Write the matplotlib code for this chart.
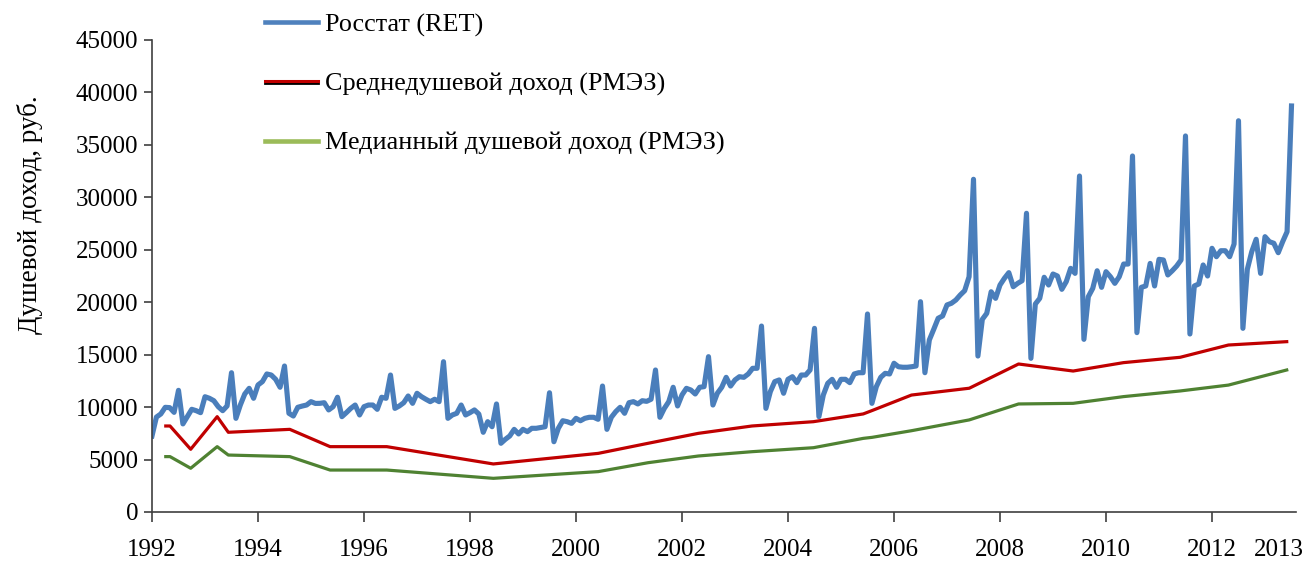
import numpy as np
import matplotlib
matplotlib.use("Agg")
import matplotlib.pyplot as plt
from matplotlib.lines import Line2D
import matplotlib.patheffects as pe

plt.rcParams['font.family'] = ['Liberation Serif', 'DejaVu Serif']

# ---------------- data ----------------
series_start = 1992.0  # first monthly observation sits at the "1992" label
rosstat_income = [
    # 1992 (Jun-Dec)
    7250, 9050, 9350, 9980, 9950, 9500, 11600,
    # 1993
    8400, 9090, 9790, 9660, 9470, 10990, 10840, 10610, 10040, 9660, 10110, 13280,
    # 1994
    8930, 10200, 11250, 11790, 10840, 12110, 12430, 13160, 13060, 12650, 11890, 13920,
    # 1995
    9410, 9150, 9980, 10100, 10200, 10520, 10350, 10360, 10420, 9730, 10040, 10940,
    # 1996
    9090, 9470, 9880, 10200, 9250, 10040, 10200, 10200, 9790, 10940, 10840, 13060,
    # 1997
    9880, 10110, 10420, 11060, 10360, 11320, 11000, 10750, 10520, 10750, 10520, 14330,
    # 1998
    8930, 9250, 9410, 10200, 9250, 9470, 9730, 9340, 7600, 8610, 8130, 10300,
    # 1999
    6550, 6930, 7250, 7880, 7440, 7880, 7660, 7980, 7980, 8050, 8130, 11370,
    # 2000
    6700, 7980, 8700, 8610, 8450, 8930, 8700, 8930, 9030, 9030, 8840, 12010,
    # 2001
    7880, 9030, 9570, 9980, 9410, 10420, 10520, 10300, 10610, 10550, 10750, 13540,
    # 2002
    9030, 9880, 10520, 11890, 10110, 11160, 11790, 11630, 11250, 11890, 11950, 14810,
    # 2003
    10200, 11320, 11890, 12840, 12010, 12590, 12900, 12840, 13160, 13700, 13700, 17730,
    # 2004
    9880, 11470, 12430, 12590, 11320, 12650, 12900, 12330, 13060, 13060, 13540, 17510,
    # 2005
    9090, 11160, 12270, 12650, 11890, 12650, 12650, 12330, 13160, 13280, 13280, 18880,
    # 2006
    10360, 11950, 12840, 13220, 13160, 14180, 13850, 13800, 13800, 13850, 13920, 20050,
    # 2007
    13280, 16400, 17420, 18470, 18690, 19740, 19900, 20210, 20690, 21100, 22430, 31720,
    # 2008
    14870, 18370, 18940, 21000, 20370, 21640, 22280, 22820, 21480, 21800, 22050, 28480,
    # 2009
    14650, 19830, 20370, 22380, 21640, 22690, 22500, 21230, 21960, 23230, 22750, 32030,
    # 2010
    16460, 20530, 21320, 23000, 21420, 22910, 22430, 21800, 22430, 23640, 23640, 33940,
    # 2011
    17100, 21420, 21550, 23700, 21550, 24090, 24030, 22600, 23000, 23450, 24030, 35850,
    # 2012
    16970, 21550, 21740, 23550, 22500, 25140, 24340, 24910, 24910, 24340, 25550, 37300,
    # 2013
    17510, 23140, 24820, 26000, 22750, 26250, 25770, 25620, 24720, 25770, 26720, 38710,
]

rlms_rounds = [1992.26, 1992.34, 1992.73, 1993.23, 1993.44, 1994.60, 1995.36, 1996.43,
               1998.44, 2000.42, 2001.36, 2002.31, 2003.32, 2004.48, 2005.42, 2005.59,
               2006.33, 2007.42, 2008.35, 2009.38, 2010.33, 2011.40, 2012.31, 2013.41]
rlms_mean = [8200, 8200, 5980, 9090, 7600, 7880, 6230, 6230,
             4580, 5590, 6550, 7500, 8200, 8610, 9350, 9680,
             11150, 11800, 14110, 13440, 14240, 14750, 15920, 16240]
rlms_median = [5280, 5280, 4170, 6230, 5430, 5280, 4000, 4000,
               3210, 3850, 4700, 5340, 5750, 6130, 7020, 7120,
               7750, 8780, 10300, 10360, 11000, 11540, 12100, 13540]

year_ticks = [1992, 1994, 1996, 1998, 2000, 2002, 2004, 2006, 2008, 2010, 2012]
extra_label_pos = 2013.26
extra_label = "2013"
y_ticks = list(range(0, 45001, 5000))

labels = ["Росстат (RET)", "Среднедушевой доход (РМЭЗ)", "Медианный душевой доход (РМЭЗ)"]
ylabel = "Душевой доход, руб."

# ---------------- plot ----------------
W, H = 1302, 561
fig = plt.figure(figsize=(W / 100, H / 100), dpi=100)
ax = fig.add_axes([152 / W, 1 - 512 / H, (1296 - 152) / W, (512 - 40) / H])

months = series_start + np.arange(len(rosstat_income)) / 12.0
blue = '#4A7EBB'
red = '#C00000'
green = '#4F8232'

ax.plot(months, rosstat_income, color=blue, lw=3.7, solid_joinstyle='round', zorder=2)
ax.plot(rlms_rounds, rlms_mean, color=red, lw=2.3, zorder=3)
ax.plot(rlms_rounds, rlms_median, color=green, lw=2.3, zorder=3)

ax.set_xlim(1992.0, 2013.585)
ax.set_ylim(0, 45000)
ax.set_yticks(y_ticks)
ax.set_yticklabels([str(v) for v in y_ticks])
ax.set_xticks(year_ticks)
ax.set_xticklabels([str(y) for y in year_ticks])
ax.set_xticks([extra_label_pos], minor=True)
ax.set_xticklabels([extra_label], minor=True)

axis_col = '#404040'
for s in ['top', 'right']:
    ax.spines[s].set_visible(False)
for s in ['left', 'bottom']:
    ax.spines[s].set_color(axis_col)
    ax.spines[s].set_linewidth(1.2)

fs = 18
ax.tick_params(axis='y', which='major', direction='out', length=6, width=1.2,
               color=axis_col, labelsize=fs, pad=4)
ax.tick_params(axis='x', which='major', direction='out', length=7, width=1.2,
               color=axis_col, labelsize=fs, pad=12.5)
ax.tick_params(axis='x', which='minor', length=0, labelsize=fs, pad=12.5 + 7)

fig.text(30 / W, 1 - 215 / H, ylabel, rotation=90, ha='center', va='center', fontsize=19.5)

leg_fs = 18.8
handles = [
    Line2D([], [], color='#4F81BD', lw=3.3),
    Line2D([], [], color=red, lw=2.2,
           path_effects=[pe.Stroke(linewidth=2.0, foreground='black', offset=(0, -1.5)), pe.Normal()]),
    Line2D([], [], color='#9BBB59', lw=3.3),
]
leg = fig.legend(handles, labels, loc='upper left',
                 bbox_to_anchor=(265 / W, 1 - 13 / H), frameon=False, fontsize=leg_fs,
                 handlelength=2.03, handletextpad=0.27, labelspacing=1.36, borderpad=0,
                 borderaxespad=0)

fig.savefig('out.png', dpi=100)
